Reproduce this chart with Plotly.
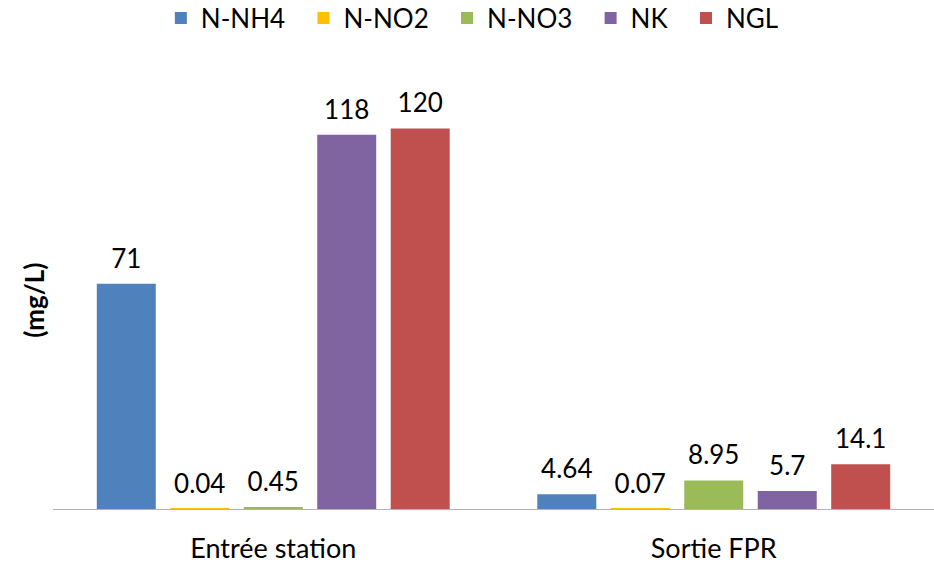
import plotly.graph_objects as go

categories = ["Entrée station", "Sortie FPR"]
series_names = ["N-NH4", "N-NO2", "N-NO3", "NK", "NGL"]
n_nh4 = [71, 4.64]
n_no2 = [0.04, 0.07]
n_no3 = [0.45, 8.95]
nk = [118, 5.7]
ngl = [120, 14.1]
colors = ["#4F81BD", "#FFC000", "#9BBB59", "#8064A2", "#C0504D"]

values = [n_nh4, n_no2, n_no3, nk, ngl]
FONT = "Lato, 'Open Sans', sans-serif"
FS = 26
PAD = "\u00a0\u00a0"
GAP = 0.166

fig = go.Figure()
for i, (name, vals, col) in enumerate(zip(series_names, values, colors)):
    fig.add_trace(go.Bar(
        name=name + (PAD if i < len(series_names) - 1 else ""),
        x=categories, y=vals, marker_color=col,
        marker_line_width=0, hoverinfo="skip",
    ))
for i, (name, vals) in enumerate(zip(series_names, values)):
    fig.add_trace(go.Scatter(
        name=name, x=categories, y=vals, mode="markers+text",
        marker=dict(size=14, opacity=0), showlegend=False,
        text=[f"{v:g}" for v in vals], textposition="top center",
        textfont=dict(size=FS, color="#000000", family=FONT),
        cliponaxis=False,
    ))

fig.update_layout(
    width=934, height=564,
    margin=dict(l=53, r=0, t=65, b=55, autoexpand=False),
    barmode="group", bargap=GAP, bargroupgap=0.197,
    scattermode="group", scattergap=GAP,
    plot_bgcolor="white", paper_bgcolor="white",
    font=dict(family=FONT, size=FS, color="#000000"),
    legend=dict(orientation="h", x=0.476, xanchor="center",
                yref="container", y=0.968, yanchor="middle",
                font=dict(size=FS), itemsizing="constant", traceorder="normal"),
    xaxis=dict(showline=True, linecolor="#B3B3B3", linewidth=1, ticks="",
               showgrid=False, ticklabelstandoff=16, tickfont=dict(size=27),
               automargin=False),
    yaxis=dict(range=[0, 140], showticklabels=False, showgrid=False, zeroline=False,
               showline=False, ticks="", automargin=False),
    annotations=[dict(text="<b>(mg/L)</b>", xref="paper", yref="paper",
                      x=-0.021, y=0.47, textangle=-90, showarrow=False,
                      font=dict(size=FS, family=FONT), xanchor="center", yanchor="middle")],
)

fig.write_html("out.html", config={"displayModeBar": False},
               post_script="document.body.style.margin='0px';document.body.style.overflow='hidden';")
